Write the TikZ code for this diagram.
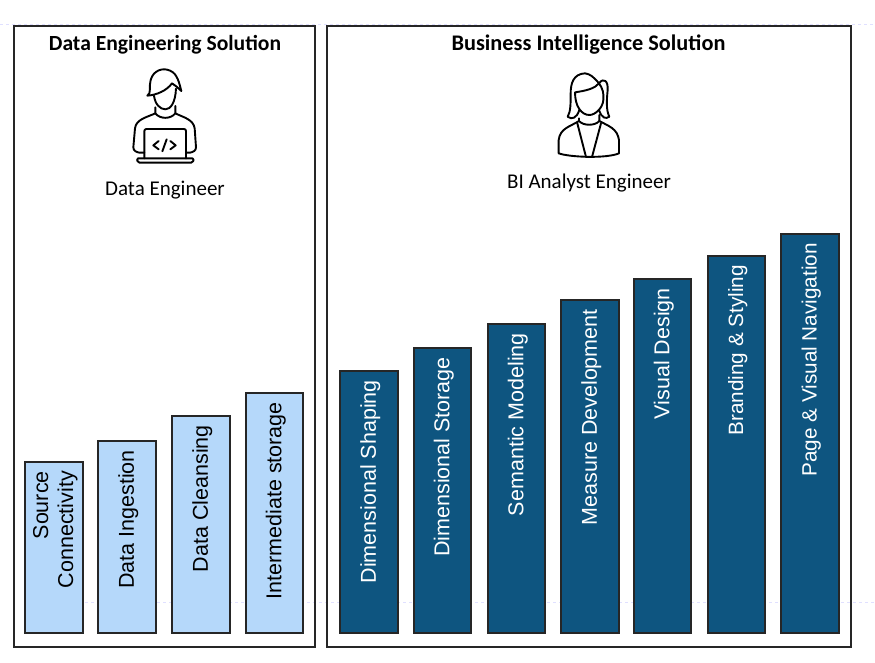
\documentclass[tikz,border=0pt]{standalone}
\usepackage{fontspec}
\setmainfont{Liberation Sans}
\newfontfamily\headfont{Carlito}
\tikzset{
 panel/.style={draw=black!85,line width=1.6pt,fill=none},
 lightbar/.style={draw=black!85,line width=1.2pt,fill=lightfill},
 darkbar/.style={draw=black!85,line width=1.2pt,fill=darkfill},
 barlabel/.style={rotate=90,anchor=east,font=\fontsize{21.5}{25}\selectfont,inner sep=0pt,align=right},
 paneltitle/.style={font=\headfont\bfseries\fontsize{21.6}{24}\selectfont,inner sep=0pt},
 rolelabel/.style={font=\headfont\fontsize{21}{24}\selectfont,inner sep=0pt},
 icon/.style={draw=black,line width=1.9pt,line cap=round,line join=round},
 guide/.style={draw=blue!12,line width=0.8pt,dashed}
}
\definecolor{lightfill}{HTML}{B5D8FA}
\definecolor{darkfill}{HTML}{0E5580}
\newcommand{\smalllab}{\fontsize{20.7}{25}\selectfont}
\begin{document}
\begin{tikzpicture}[x=1pt,y=-1pt]
\path[use as bounding box,fill=white] (0,0) rectangle (875,663);
\coordinate (gl1) at (0,24); \coordinate (gr1) at (875,24);
\coordinate (gl2) at (85,602); \coordinate (gr2) at (875,602);
\draw[guide] (gl1) -- (gr1);
\draw[guide] (gl2) -- (gr2);
% panels
\node[panel,minimum width=301pt,minimum height=621pt,inner sep=0pt] (de) at (164.5,336.5) {};
\node[panel,minimum width=524pt,minimum height=621pt,inner sep=0pt] (bi) at (589,336.5) {};
\node[paneltitle] (det) at (165,45) {Data Engineering Solution};
\node[paneltitle,font=\headfont\bfseries\fontsize{22.3}{24}\selectfont] (bit) at (588.5,45) {Business Intelligence Solution};
\node[rolelabel] (der) at (165,190) {Data Engineer};
\node[rolelabel] (bir) at (589,183) {BI Analyst Engineer};
% bars
\newcommand{\barx}[6]{%
 \draw[#1] (#3,#5) rectangle (#4,633);
 \node[barlabel] (#2) at ({(#3+#4)/2+1.3},{#5+9}) {#6};}
\barx{lightbar}{b1}{25}{83}{462}{Source\\Connectivity}
\barx{lightbar}{b2}{98}{156}{441}{Data Ingestion}
\barx{lightbar}{b3}{172}{230}{416}{Data Cleansing}
\barx{lightbar}{b4}{246}{303}{393}{Intermediate storage}
\barx{darkbar}{c1}{340}{398}{371}{\color{white}Dimensional Shaping}
\barx{darkbar}{c2}{414}{471}{348}{\color{white}Dimensional Storage}
\barx{darkbar}{c3}{488}{545}{324}{\color{white}Semantic Modeling}
\barx{darkbar}{c4}{561}{619}{300}{\color{white}Measure Development}
\barx{darkbar}{c5}{634}{691}{279}{\color{white}Visual Design}
\barx{darkbar}{c6}{708}{765}{256}{\color{white}\smalllab Branding \& Styling}
\barx{darkbar}{c7}{781}{839}{234}{\color{white}\smalllab Page \& Visual Navigation}
% engineer icon (zoom coordinates)
\begin{scope}[shift={(100,30)},scale=1/3,icon]
 \draw (142,197) .. controls (155,190) and (146,170) .. (152,150) .. controls (160,120) and (190,112) .. (210,122) .. controls (232,130) and (238,160) .. (244,183) .. controls (232,172) and (225,165) .. (216,160) .. controls (200,182) and (170,195) .. (142,197);
 \draw (162,197) .. controls (165,222) and (180,238) .. (196,238) .. controls (212,238) and (226,218) .. (228,176);
 \draw (166,232) -- (166,250) .. controls (180,268) and (212,268) .. (226,250) -- (226,228);
 \draw (166,250) .. controls (140,262) and (108,268) .. (105,295) -- (100,352) .. controls (100,362) and (108,366) .. (118,368) -- (133,368);
 \draw (226,250) .. controls (250,262) and (280,268) .. (284,295) -- (288,352) .. controls (288,362) and (280,366) .. (270,368) -- (258,368);
 \draw[rounded corners=2pt] (133,385) -- (133,297) -- (258,297) -- (258,385);
 \draw[rounded corners=1.5pt] (110,385) -- (282,385) -- (278,398) -- (114,398) -- cycle;
 \draw (176,333) -- (160,346) -- (176,358);
 \draw (211,333) -- (227,346) -- (211,358);
 \draw (200,328) -- (187,364);
\end{scope}
% analyst icon
\begin{scope}[shift={(530,60)},scale=1/3,icon]
 \draw (135,97) .. controls (170,92) and (195,85) .. (207,70) .. controls (218,85) and (222,100) .. (220,120) .. controls (218,145) and (195,165) .. (178,165) .. controls (155,165) and (135,140) .. (135,97);
 \draw (207,70) .. controls (222,50) and (235,65) .. (233,90) .. controls (230,120) and (228,150) .. (238,170) .. controls (228,178) and (215,175) .. (207,150);
 \draw (207,70) .. controls (190,50) and (180,42) .. (165,40) .. controls (130,42) and (122,70) .. (122,100) .. controls (122,130) and (122,155) .. (113,170) .. controls (125,180) and (140,175) .. (148,150);
 \draw (147,175) -- (147,183) .. controls (160,198) and (195,198) .. (208,183) -- (208,165);
 \draw (147,183) .. controls (120,200) and (90,205) .. (86,240) -- (86,280) .. controls (120,292) and (230,296) .. (267,280) -- (267,240) .. controls (262,205) and (235,198) .. (208,183);
 \draw (142,190) -- (168,291) -- (186,291) -- (213,190);
\end{scope}
\end{tikzpicture}
\end{document}
